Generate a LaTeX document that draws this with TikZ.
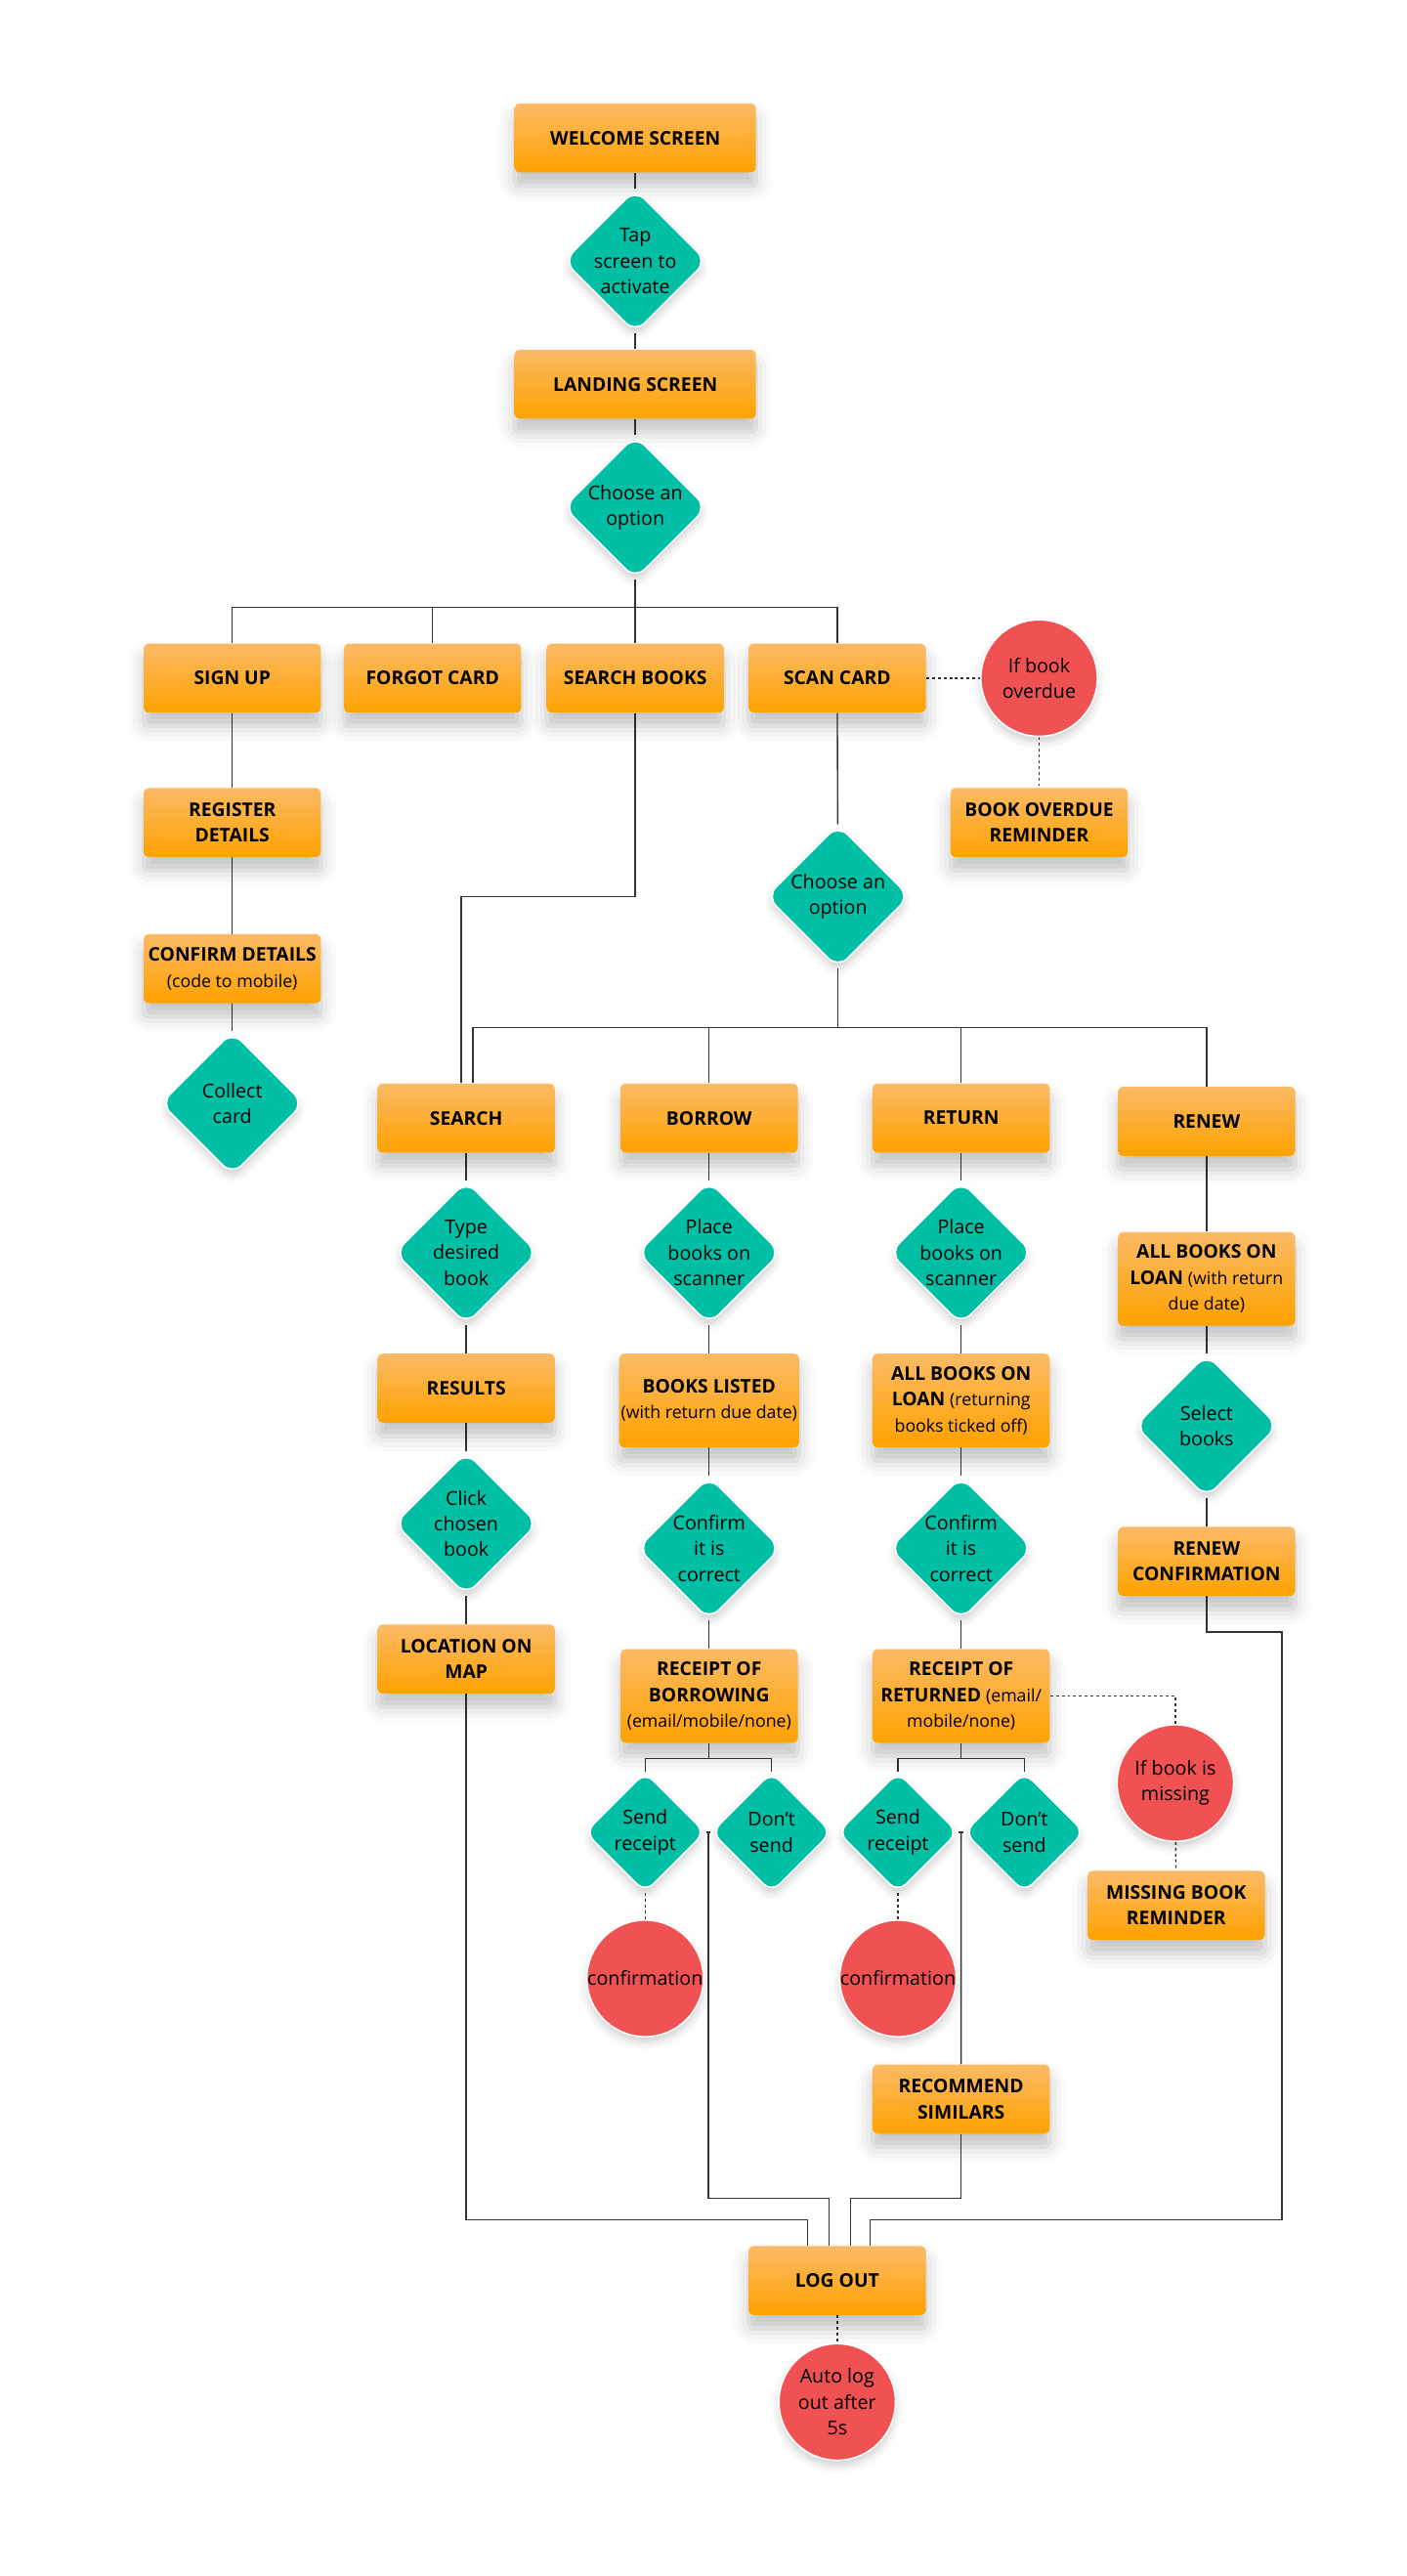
\documentclass[tikz,border=0pt]{standalone}
\usepackage{fontspec}
\setmainfont{Open Sans}
\usepackage{tikz}
\usetikzlibrary{shapes.geometric}
\usetikzlibrary{shadows.blur}
\definecolor{bg}{HTML}{FAFAFA}
\definecolor{orT}{HTML}{FBBA65}
\definecolor{orB}{HTML}{FFA200}
\definecolor{tl}{HTML}{00BFA5}
\definecolor{rd}{HTML}{F05253}
\definecolor{ln}{HTML}{333333}
\pgfdeclarelayer{back}
\pgfdeclarelayer{edges}
\pgfsetlayers{back,edges,main}
\newcommand{\subtx}[1]{{\mdseries\fontsize{9}{13.4}\selectfont #1}}
\tikzset{t/.style={font=\fontsize{9.8}{13.4}\selectfont\bfseries}}
\tikzset{d/.style={font=\fontsize{10}{13.4}\selectfont}}
\tikzset{box/.style={t, rectangle, rounded corners=2.5pt, top color=orT, bottom color=orB,
  minimum width=3.24cm, minimum height=1.26cm, inner sep=1pt, align=center,
  blur shadow={shadow xshift=0pt, shadow yshift=-7pt, shadow blur radius=8pt, shadow opacity=24}}}
\tikzset{wbox/.style={box, minimum width=4.41cm}}
\tikzset{tbox/.style={box, minimum height=1.71cm}}
\tikzset{dia/.style={diamond, minimum size=2.62cm, inner sep=0pt, fill=tl, draw=white,
  line width=0.8pt, rounded corners=7pt,
  blur shadow={shadow xshift=0pt, shadow yshift=-3pt, shadow blur radius=4pt, shadow opacity=18},
  label={[d, align=center]center:#1}}}
\tikzset{sdia/.style={dia={#1}, minimum size=2.2cm, rounded corners=6pt}}
\tikzset{ci/.style={circle, minimum size=2.13cm, inner sep=0pt, fill=rd, draw=white,
  line width=0.8pt,
  blur shadow={shadow xshift=0pt, shadow yshift=-3pt, shadow blur radius=4pt, shadow opacity=18},
  label={[d, align=center]center:#1}}}
\tikzset{wire/.style={draw=ln, line width=0.7pt}}
\tikzset{dot/.style={wire, dash pattern=on 1.5pt off 1.5pt}}
\begin{document}
\begin{tikzpicture}[x=0.03cm, y=-0.03cm]
  \useasboundingbox (0,0) rectangle (857,1569);
  \begin{pgfonlayer}{back}
    \fill[bg] (0,0) rectangle (857,1569);
  \end{pgfonlayer}
  % first shadow, off the page
  \node[wbox] (X) at (-400,-400) {};

  % top
  \node[wbox] (W) at (387,84) {WELCOME SCREEN};
  \node[dia={Tap\\screen to\\activate}] (T) at (387,159) {};
  \node[wbox] (L) at (387,234) {LANDING SCREEN};
  \node[dia={Choose an\\option}] (C1) at (387,309) {};

  \node[box] (SU) at (141.5,413) {SIGN UP};
  \node[box] (FC) at (263.5,413) {FORGOT CARD};
  \node[box] (SB) at (387,413) {SEARCH BOOKS};
  \node[box] (SC) at (510,413) {SCAN CARD};
  \node[ci={If book\\overdue}] (OD) at (633,413) {};
  \node[box] (ODR) at (633,501) {BOOK OVERDUE\\REMINDER};

  % sign up
  \node[box] (RD) at (141.5,501) {REGISTER\\DETAILS};
  \node[box] (CD) at (141.5,590) {CONFIRM DETAILS\\\subtx{(code to mobile)}};
  \node[dia={Collect\\card}] (CC) at (141.5,672) {};

  \node[dia={Choose an\\option}] (C2) at (510.5,546) {};

  % second row
  \node[box] (S) at (284,681) {SEARCH};
  \node[box] (B) at (432,681) {BORROW};
  \node[box] (R) at (585.5,681) {RETURN};
  \node[box] (N) at (735,683) {RENEW};

  % search
  \node[dia={Type\\desired\\book}] (S1) at (284,763) {};
  \node[box] (S2) at (284,845.5) {RESULTS};
  \node[dia={Click\\chosen\\book}] (S3) at (284,928) {};
  \node[box] (S4) at (284,1010.5) {LOCATION ON\\MAP};

  % borrow
  \node[dia={Place\\books on\\scanner}] (B1) at (432,763) {};
  \node[tbox] (B2) at (432,853) {BOOKS LISTED\\\subtx{(with return due date)}};
  \node[dia={Confirm\\it is\\correct}] (B3) at (432,943) {};
  \node[tbox] (B4) at (432,1033) {RECEIPT OF\\BORROWING\\\subtx{(email/mobile/none)}};
  \node[sdia={Send\\receipt}] (B5) at (393,1116) {};
  \node[sdia={Don’t\\send}] (B6) at (470,1116) {};
  \node[ci={confirmation}] (B7) at (393,1205) {};

  % return
  \node[dia={Place\\books on\\scanner}] (R1) at (585.5,763) {};
  \node[tbox] (R2) at (585.5,853) {ALL BOOKS ON\\LOAN \subtx{(returning}\\\subtx{books ticked off)}};
  \node[dia={Confirm\\it is\\correct}] (R3) at (585.5,943) {};
  \node[tbox] (R4) at (585.5,1033) {RECEIPT OF\\RETURNED \subtx{(email/}\\\subtx{mobile/none)}};
  \node[sdia={Send\\receipt}] (R5) at (547,1116) {};
  \node[sdia={Don’t\\send}] (R6) at (624,1116) {};
  \node[ci={confirmation}] (R7) at (547,1205) {};
  \node[box] (R8) at (585.5,1278.5) {RECOMMEND\\SIMILARS};
  \node[ci={If book is\\missing}] (M1) at (716,1086) {};
  \node[box] (M2) at (716.5,1160.5) {MISSING BOOK\\REMINDER};

  % renew
  \node[tbox] (N1) at (735,779) {ALL BOOKS ON\\LOAN \subtx{(with return}\\\subtx{due date)}};
  \node[dia={Select\\books}] (N2) at (735,868.5) {};
  \node[box] (N3) at (735,951) {RENEW\\CONFIRMATION};

  % end
  \node[box] (LO) at (510,1389) {LOG OUT};
  \node[ci={Auto log\\out after\\5s}] (AL) at (510,1463) {};

  \coordinate (b1) at (387,370);
  \coordinate (j1) at (281,546);
  \coordinate (b2) at (288,626);
  \coordinate (b3) at (432,1071);
  \coordinate (b4) at (585.5,1071);
  \coordinate (n4) at (781,994);
  \coordinate (lo1) at (492,1352);
  \coordinate (lo2) at (505,1339);
  \coordinate (lo3) at (518,1339);
  \coordinate (lo4) at (530,1352);

  \begin{pgfonlayer}{edges}
    \draw[wire] (W) -- (T) -- (L) -- (C1);
    \draw[wire] (C1) -- (SB);
    \draw[wire] (SU) |- (b1) -| (SC);
    \draw[wire] (FC) -- (FC |- b1);
    \draw[dot] (SC) -- (OD);
    \draw[dot] (OD) -- (ODR);
    \draw[wire] (SU) -- (RD) -- (CD) -- (CC);
    \draw[wire] (SC) -- (C2);
    \draw[wire] (SB) |- (j1) -- (j1 |- S.north);
    \draw[wire] (C2) -- (C2 |- b2);
    \draw[wire] (b2 |- S.north) -- (b2) -| (N);
    \draw[wire] (B) -- (B |- b2);
    \draw[wire] (R) -- (R |- b2);

    \draw[wire] (S) -- (S1) -- (S2) -- (S3) -- (S4);
    \draw[wire] (B) -- (B1) -- (B2) -- (B3) -- (B4);
    \draw[wire] (R) -- (R1) -- (R2) -- (R3) -- (R4);
    \draw[wire] (N) -- (N1) -- (N2) -- (N3);

    \draw[wire] (B4) -- (b3);
    \draw[wire] (B5) |- (b3) -| (B6);
    \draw[wire] (B5) -- coordinate (m1) (B6);
    \draw[dot] (B5) -- (B7);
    \draw[wire] (R4) -- (b4);
    \draw[wire] (R5) |- (b4) -| (R6);
    \draw[wire] (R5) -- coordinate (m2) (R6);
    \draw[dot] (R5) -- (R7);
    \draw[wire] (m2) -- (R8);
    \draw[dot] (R4) -| (M1);
    \draw[dot] (M1) -- (M2);

    \draw[wire] (S4) |- (lo1) -- (lo1 |- LO.north);
    \draw[wire] (m1) |- (lo2) -- (lo2 |- LO.north);
    \draw[wire] (R8) |- (lo3) -- (lo3 |- LO.north);
    \draw[wire] (N3) |- (n4) |- (lo4) -- (lo4 |- LO.north);
    \draw[dot] (LO) -- (AL);
  \end{pgfonlayer}
\end{tikzpicture}
\end{document}
